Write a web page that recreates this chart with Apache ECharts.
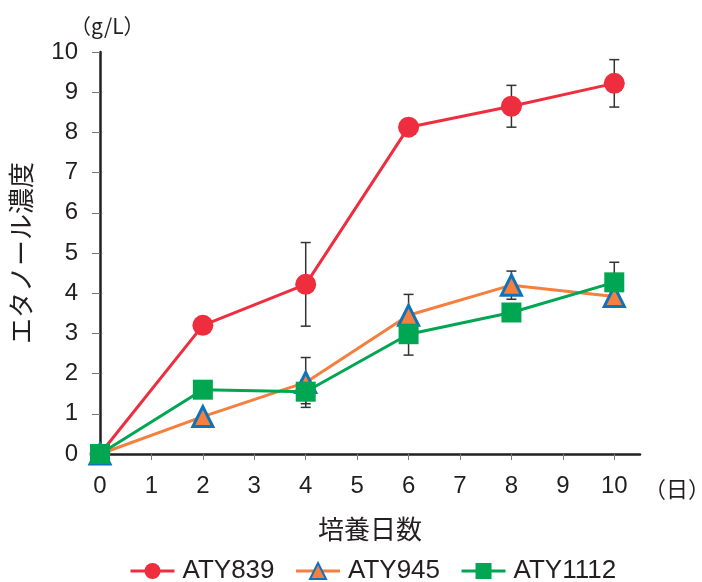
<!DOCTYPE html>
<html>
<head>
<meta charset="utf-8">
<script src="https://cdn.jsdelivr.net/npm/echarts@6/dist/echarts.min.js"></script>
<style>html,body{margin:0;padding:0;background:#fff;}#chart{width:702px;height:582px;}</style>
</head>
<body>
<div id="chart"></div>
<script>
const days = [0, 2, 4, 6, 8, 10];
const xTicks = [0, 1, 2, 3, 4, 5, 6, 7, 8, 9, 10];
const aty839 = [0, 3.2, 4.22, 8.13, 8.65, 9.22];
const aty839Err = [0, 0, 1.04, 0, 0.52, 0.59];
const aty945 = [0, 0.93, 1.78, 3.45, 4.2, 3.92];
const aty945Err = [0, 0, 0.62, 0.52, 0.35, 0];
const aty1112 = [0, 1.6, 1.55, 2.98, 3.52, 4.27];
const aty1112Err = [0, 0, 0.3, 0.52, 0, 0.5];

const numFont = 'Liberation Sans, Arial, sans-serif';
const jpFont = '"Noto Sans CJK JP", sans-serif';

function pairs(vals){ return days.map((d,i)=>[d, vals[i]]); }
function errData(vals, errs){
  const out = [];
  days.forEach((d,i)=>{ if (errs[i] > 0) out.push([d, vals[i]-errs[i], vals[i]+errs[i]]); });
  return out;
}
function errSeries(vals, errs){
  return {
    type: 'custom',
    z: 1,
    silent: true,
    data: errData(vals, errs),
    renderItem: function(params, api){
      const x = api.value(0);
      const lo = api.coord([x, api.value(1)]);
      const hi = api.coord([x, api.value(2)]);
      const hw = 5;
      const st = {stroke: '#333', lineWidth: 1.5};
      return {type: 'group', children: [
        {type: 'line', shape: {x1: lo[0], y1: lo[1], x2: hi[0], y2: hi[1]}, style: st},
        {type: 'line', shape: {x1: lo[0]-hw, y1: lo[1], x2: lo[0]+hw, y2: lo[1]}, style: st},
        {type: 'line', shape: {x1: hi[0]-hw, y1: hi[1], x2: hi[0]+hw, y2: hi[1]}, style: st}
      ]};
    }
  };
}

const chart = echarts.init(document.getElementById('chart'), null, {renderer: 'canvas'});
chart.setOption({
  animation: false,
  backgroundColor: '#fff',
  grid: {left: 100, right: 62, top: 52, bottom: 128},
  xAxis: {
    type: 'value', min: 0, max: 10.5, interval: 1,
    splitLine: {show: false},
    axisLine: {lineStyle: {color: '#231f20', width: 2.5}},
    axisTick: {show: true, length: 6, lineStyle: {color: '#777', width: 1}, customValues: xTicks},
    axisLabel: {customValues: xTicks, margin: 20, fontSize: 24, color: '#231f20', fontFamily: numFont},
    name: '培養日数', nameLocation: 'middle', nameGap: 62,
    nameTextStyle: {fontSize: 26, color: '#231f20', fontFamily: jpFont}
  },
  yAxis: {
    type: 'value', min: 0, max: 10, interval: 1,
    splitLine: {show: false},
    axisLine: {show: true, lineStyle: {color: '#231f20', width: 2.5}},
    axisTick: {show: true, length: 8, lineStyle: {color: '#777', width: 1}},
    axisLabel: {margin: 22, fontSize: 24, color: '#231f20', fontFamily: numFont},
    name: 'エタノール濃度', nameLocation: 'middle', nameGap: 66, nameRotate: 90,
    nameTextStyle: {fontSize: 26, color: '#231f20', fontFamily: jpFont}
  },
  legend: {
    top: 553, left: 124,
    itemWidth: 44, itemHeight: 20, itemGap: 20,
    lineStyle: {width: 3},
    textStyle: {fontSize: 26, color: '#231f20', fontFamily: numFont, padding: [0, 0, 0, 3]},
    data: ['ATY839', 'ATY945', 'ATY1112']
  },
  graphic: [
    {type: 'text', left: 70, top: 16, style: {text: '（g/L）', fontSize: 21, fill: '#231f20', fontFamily: jpFont}},
    {type: 'text', left: 644, top: 478, style: {text: '（日）', fontSize: 22, fill: '#231f20', fontFamily: jpFont}}
  ],
  series: [
    errSeries(aty839, aty839Err),
    errSeries(aty945, aty945Err),
    errSeries(aty1112, aty1112Err),
    {
      name: 'ATY839', type: 'line', z: 3, data: pairs(aty839),
      symbol: 'circle', symbolSize: 21,
      lineStyle: {color: '#ee2e3f', width: 3},
      itemStyle: {color: '#ee2e3f'}
    },
    {
      name: 'ATY945', type: 'line', z: 3, data: pairs(aty945),
      symbol: 'triangle', symbolSize: 20,
      lineStyle: {color: '#f47f3e', width: 3},
      itemStyle: {color: '#f47f3e', borderColor: '#0f73b9', borderWidth: 3}
    },
    {
      name: 'ATY1112', type: 'line', z: 4, data: pairs(aty1112),
      symbol: 'rect', symbolSize: 20,
      lineStyle: {color: '#00a651', width: 3},
      itemStyle: {color: '#00a651'}
    }
  ]
});
</script>
</body>
</html>
